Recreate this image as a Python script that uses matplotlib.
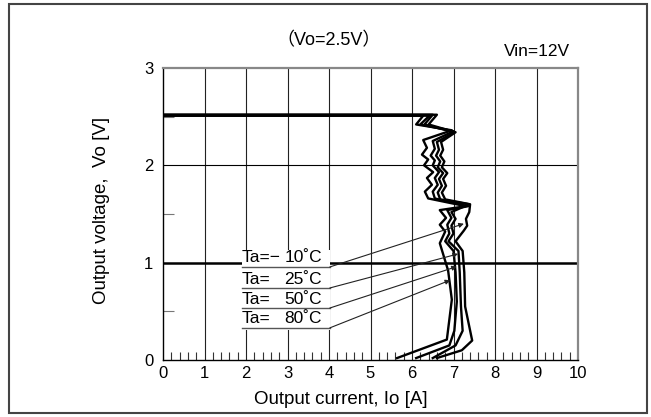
import matplotlib
matplotlib.use("Agg")
import matplotlib.pyplot as plt
from matplotlib.patches import Rectangle
from matplotlib.ticker import MultipleLocator

plt.rcParams["font.family"] = ["Liberation Sans", "Noto Sans CJK JP", "DejaVu Sans"]

# output current [A] / output voltage [V]
io_m10 = [0, 6.60, 6.40, 7.05, 6.70, 6.75, 6.68, 6.78, 6.72, 6.85, 6.75, 6.82,
          6.72, 6.80, 7.40, 7.38, 7.30, 7.33, 7.25, 7.05, 7.22, 7.26, 7.28, 7.45, 7.20, 6.60]
vo_m10 = [2.52, 2.52, 2.42, 2.34, 2.24, 2.16, 2.10, 2.04, 1.98, 1.92, 1.86, 1.79,
          1.72, 1.65, 1.60, 1.52, 1.45, 1.38, 1.33, 1.22, 1.12, 0.90, 0.55, 0.20, 0.10, 0.02]

io_25 = [0, 6.50, 6.30, 7.02, 6.60, 6.65, 6.58, 6.68, 6.62, 6.75, 6.65, 6.72,
         6.62, 6.68, 7.38, 6.95, 7.05, 6.95, 7.00, 6.88, 7.12, 7.15, 7.18, 7.22, 7.05, 6.50]
vo_25 = [2.52, 2.52, 2.42, 2.34, 2.24, 2.16, 2.10, 2.04, 1.98, 1.92, 1.86, 1.79,
         1.72, 1.65, 1.60, 1.52, 1.45, 1.38, 1.30, 1.22, 1.12, 0.90, 0.55, 0.30, 0.15, 0.02]

io_50 = [0, 6.42, 6.20, 7.00, 6.50, 6.55, 6.45, 6.55, 6.50, 6.65, 6.55, 6.62,
         6.50, 6.55, 7.35, 6.85, 6.95, 6.85, 6.90, 6.80, 7.00, 7.05, 7.08, 7.02, 6.90, 6.10]
vo_50 = [2.51, 2.51, 2.42, 2.35, 2.25, 2.17, 2.10, 2.05, 2.00, 1.93, 1.87, 1.80,
         1.73, 1.66, 1.58, 1.54, 1.46, 1.39, 1.30, 1.22, 1.12, 0.90, 0.60, 0.30, 0.15, 0.02]

io_80 = [0, 6.27, 6.10, 6.96, 6.27, 6.36, 6.24, 6.39, 6.29, 6.51, 6.36, 6.48,
         6.31, 6.39, 7.30, 6.67, 6.82, 6.67, 6.80, 6.67, 6.87, 6.96, 6.84, 5.64]
vo_80 = [2.51, 2.51, 2.42, 2.36, 2.26, 2.18, 2.11, 2.06, 2.00, 1.93, 1.87, 1.80,
         1.73, 1.66, 1.58, 1.54, 1.46, 1.39, 1.32, 1.20, 0.92, 0.62, 0.21, 0.02]

curves = [(io_m10, vo_m10), (io_25, vo_25), (io_50, vo_50), (io_80, vo_80)]

ta_prefix = ["Ta=−", "Ta=", "Ta=", "Ta="]
ta_values = ["10˚C", "25˚C", "50˚C", "80˚C"]
label_y = [0.956, 0.74, 0.534, 0.33]
arrow_tips = [(7.25, 1.40), (7.11, 1.09), (7.08, 0.96), (6.92, 0.82)]

fig = plt.figure(figsize=(6.51, 4.17), dpi=100)
ax = fig.add_axes([163 / 651, 57 / 417, 415 / 651, 292 / 417])

# outer frame of the figure
fig.patches.append(Rectangle((9 / 651, 4 / 417), 638 / 651, 409 / 417,
                             transform=fig.transFigure, fill=False,
                             edgecolor="#444444", linewidth=1.5))

ax.set_xlim(0, 10)
ax.set_ylim(0, 3)
ax.xaxis.set_major_locator(MultipleLocator(1))
ax.yaxis.set_major_locator(MultipleLocator(1))
ax.xaxis.set_minor_locator(MultipleLocator(0.2))
ax.yaxis.set_minor_locator(MultipleLocator(0.5))
ax.tick_params(which="major", length=0, labelsize=12)
ax.tick_params(axis="x", which="major", pad=4)
ax.tick_params(axis="y", which="major", pad=7)
ax.tick_params(axis="x", which="minor", direction="in", length=6, width=0.8, color="#333333")
ax.tick_params(axis="y", which="minor", direction="in", length=8, width=0.8, color="#777777")

for sp in ["top", "right"]:
    ax.spines[sp].set_color("#888888")
    ax.spines[sp].set_linewidth(1.6)
for sp in ["left", "bottom"]:
    ax.spines[sp].set_color("black")
    ax.spines[sp].set_linewidth(1.0)

for x in range(1, 10):
    ax.axvline(x, color="#222222", lw=0.8, zorder=1)
ax.axhline(2, color="black", lw=0.8, zorder=1)
ax.axhline(1, color="black", lw=1.8, zorder=1)

for io, vo in curves:
    ax.plot(io, vo, color="black", lw=1.7, zorder=3)

# label box with leader arrows
ax.add_patch(Rectangle((1.9, 0.31), 2.12, 0.82, facecolor="white",
                       edgecolor="none", zorder=2))
for pre, ta, y, tip in zip(ta_prefix, ta_values, label_y, arrow_tips):
    ax.plot([1.9, 4.02], [y, y], color="#555555", lw=1.0, zorder=4)
    ax.text(1.9, y + 0.015, pre, fontsize=12.5, ha="left", va="bottom", zorder=5)
    ax.text(3.83, y + 0.015, ta, fontsize=12.5, ha="right", va="bottom", zorder=5)
    ax.annotate("", xy=tip, xytext=(4.02, y),
                arrowprops=dict(arrowstyle="-|>", lw=0.8, color="#222222",
                                mutation_scale=7, shrinkA=0, shrinkB=0),
                zorder=4)

ax.text(3.98, 3.28, "（Vo=2.5V）", fontsize=13, ha="center", va="center")
ax.text(9.81, 3.17, "Vin=12V", fontsize=12.5, ha="right", va="center")

fig.text(341 / 651, 1 - 400 / 417, "Output current, Io [A]", fontsize=13.5,
         ha="center", va="center")
fig.text(102 / 651, 1 - 210 / 417, "Output voltage,  Vo [V]", fontsize=13.5,
         ha="center", va="center", rotation=90)

fig.savefig("out.png", dpi=100)
